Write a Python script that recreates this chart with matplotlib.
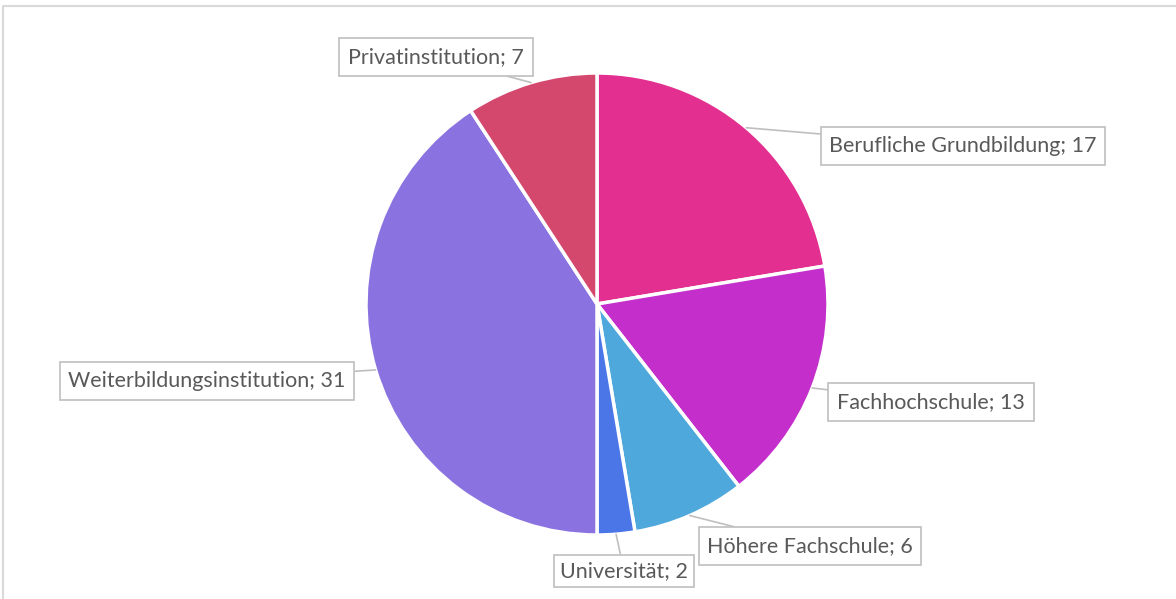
import numpy as np
import matplotlib.pyplot as plt

categories = ["Berufliche Grundbildung", "Fachhochschule", "Höhere Fachschule",
              "Universität", "Weiterbildungsinstitution", "Privatinstitution"]
values = [17, 13, 6, 2, 31, 7]
colors = ["#E32F8F", "#C42FCC", "#4FA8DC", "#4A76E8", "#8A73E0", "#D5486E"]

# label box centres (pixel coords, y measured from top)
label_pos = [(963, 146), (931, 402), (810, 546), (624, 571), (207, 381), (436, 57)]

W, H = 1176, 599
fig = plt.figure(figsize=(W / 100, H / 100), dpi=100)
ax = fig.add_axes([0, 0, 1, 1])

cx, cy, r = 597, H - 304, 231
wedges, _ = ax.pie(values, colors=colors, startangle=90, counterclock=False,
                   center=(cx, cy), radius=r, frame=True,
                   wedgeprops=dict(edgecolor="white", linewidth=2.5))
ax.set_xlim(0, W)
ax.set_ylim(0, H)
ax.set_aspect("equal")
ax.axis("off")

# chart frame
ax.plot([3, 3, W], [0, H - 6, H - 6], color="#D9D9D9", lw=1.5, clip_on=False)

for w, cat, val, (lx, ly) in zip(wedges, categories, values, label_pos):
    mid = np.deg2rad((w.theta1 + w.theta2) / 2)
    tip = (cx + r * np.cos(mid), cy + r * np.sin(mid))
    pad = 0.3 if cat == "Universität" else 0.4
    ax.annotate(f"{cat}; {val}", xy=tip, xytext=(lx, H - ly),
                ha="center", va="center", fontsize=15.5, family="Lato", color="#595959",
                bbox=dict(boxstyle=f"square,pad={pad}", fc="white", ec="#BFBFBF", lw=1.2),
                arrowprops=dict(arrowstyle="-", color="#BFBFBF", lw=1.2,
                                shrinkA=0, shrinkB=0))

fig.savefig("out.png", dpi=100)
